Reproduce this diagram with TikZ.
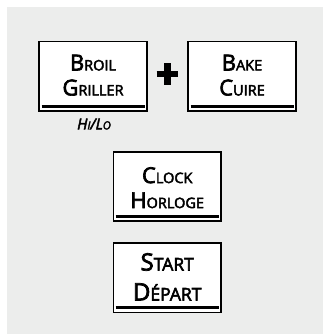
\documentclass[tikz,border=0pt]{standalone}
\usepackage{fontspec}
\setmainfont{Open Sans}[FakeBold=3]
\definecolor{bg}{RGB}{236,237,236}
\newcommand\capA[2]{#1{\fontsize{14.5}{14.5}\selectfont #2}}
\newcommand\capB[2]{#1{\fontsize{17.5}{17.5}\selectfont #2}}
\newcommand\capC[2]{#1{\fontsize{11}{11}\selectfont #2}}
\begin{document}
\begin{tikzpicture}[x=1pt,y=-1pt,
  keybox/.style={draw=black, line width=1.8pt, fill=white, minimum width=107.6pt, minimum height=69.2pt, inner sep=0pt},
  keytext/.style={align=center, font=\fontsize{22}{25}\selectfont, inner sep=0pt},
  bigtext/.style={align=center, font=\fontsize{24}{30}\selectfont, inner sep=0pt},
  keybar/.style={line width=2.8pt},
  plusbar/.style={line width=6.5pt}
]
\useasboundingbox (0,0) rectangle (323,334);
\fill[bg] (7,7) rectangle (323,334);
\node[keybox] (broil) at (93,76.2) {};
\node[keybox] (bake) at (242,76.2) {};
\node[keybox] (clock) at (167.2,186.2) {};
\node[keybox] (start) at (167.2,277.8) {};
\foreach \k in {broil,bake,clock,start}{
  \draw[keybar] ([xshift=3.2pt,yshift=5.6pt]\k.south west) -- ([xshift=-3.2pt,yshift=5.6pt]\k.south east);
}
\node[keytext] (broilt) at ([yshift=1pt]broil.center) {\capA{B}{ROIL}\\\capA{G}{RILLER}};
\node[keytext] (baket) at ([yshift=1pt]bake.center) {\capA{B}{AKE}\\\capA{C}{UIRE}};
\node[keytext] (clockt) at ([yshift=-1.5pt]clock.center) {\capA{C}{LOCK}\\\capA{H}{ORLOGE}};
\node[bigtext] (startt) at ([yshift=1pt]start.center) {\capB{S}{TART}\\\capB{D}{ÉPART}};
\node[font=\fontsize{15}{15}\selectfont\itshape, inner sep=0pt] (hilo) at (94,124) {\capC{H}{I}/\capC{L}{O}};
\coordinate (plus) at (167.5,74);
\draw[plusbar] ([xshift=-10.8pt]plus) -- ([xshift=10.8pt]plus);
\draw[plusbar] ([yshift=-11pt]plus) -- ([yshift=11pt]plus);
\end{tikzpicture}
\end{document}
